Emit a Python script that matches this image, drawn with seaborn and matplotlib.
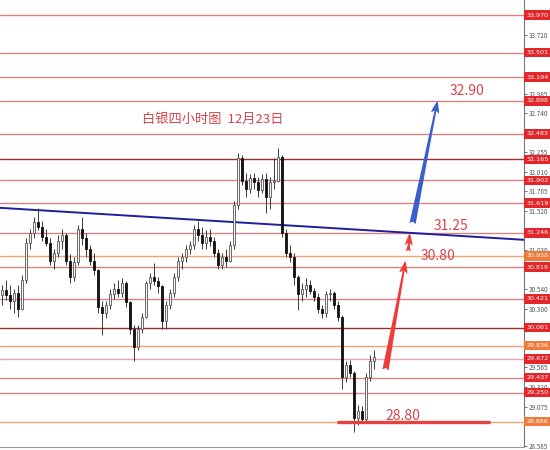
import numpy as np
import pandas as pd
import matplotlib
matplotlib.use("Agg")
import matplotlib.pyplot as plt
import seaborn as sns

sns.set_style("white")
plt.rcParams['font.family'] = ['Noto Sans CJK SC', 'DejaVu Sans']

# candle data (4h silver)
opens = [30.47, 30.53, 30.47, 30.40, 30.50, 30.30, 30.66, 31.12, 31.25, 31.38,
         31.32, 31.20, 31.12, 30.90, 31.00, 31.15, 31.22, 30.90, 30.70, 30.88,
         31.30, 31.18, 31.05, 30.90, 30.78, 30.32, 30.25, 30.35, 30.48, 30.55,
         30.50, 30.62, 30.38, 30.05, 29.82, 30.05, 30.20, 30.62, 30.70, 30.65,
         30.58, 30.15, 30.35, 30.50, 30.70, 30.90, 30.95, 31.05, 31.10, 31.30,
         31.22, 31.12, 31.20, 31.15, 31.00, 30.85, 30.95, 30.90, 31.10, 31.60,
         32.18, 31.90, 31.80, 31.93, 31.88, 31.78, 31.92, 31.70, 31.88, 31.90,
         32.20, 31.25, 31.00, 30.95, 30.70, 30.48, 30.55, 30.60, 30.52, 30.45,
         30.30, 30.24, 30.48, 30.50, 30.35, 30.20, 29.45, 29.60, 29.50, 28.93,
         29.02, 28.92, 29.45, 29.65]
highs = [30.60, 30.66, 30.60, 30.55, 30.60, 30.72, 31.18, 31.30, 31.45, 31.56,
         31.40, 31.30, 31.18, 31.05, 31.22, 31.30, 31.25, 30.98, 30.95, 31.35,
         31.45, 31.25, 31.10, 31.00, 30.80, 30.40, 30.40, 30.55, 30.62, 30.66,
         30.68, 30.65, 30.40, 30.10, 30.10, 30.25, 30.65, 30.75, 30.87, 30.70,
         30.60, 30.40, 30.55, 30.75, 30.95, 31.00, 31.10, 31.15, 31.35, 31.40,
         31.32, 31.28, 31.30, 31.20, 31.05, 31.00, 31.05, 31.15, 31.65, 32.25,
         32.22, 32.00, 31.98, 32.00, 31.95, 31.98, 32.00, 31.95, 32.18, 32.31,
         32.22, 31.30, 31.10, 31.00, 30.72, 30.62, 30.68, 30.66, 30.56, 30.50,
         30.35, 30.52, 30.55, 30.52, 30.40, 30.22, 29.65, 29.66, 29.52, 29.10,
         29.08, 29.50, 29.72, 29.78]
lows = [30.35, 30.41, 30.30, 30.25, 30.20, 30.28, 30.62, 31.05, 31.18, 31.28,
        31.15, 31.08, 30.85, 30.80, 30.95, 31.05, 30.85, 30.62, 30.65, 30.85,
        31.10, 30.95, 30.85, 30.72, 30.25, 29.97, 30.18, 30.30, 30.42, 30.45,
        30.45, 30.32, 29.98, 29.65, 29.78, 30.00, 30.18, 30.55, 30.60, 30.50,
        30.05, 30.05, 30.30, 30.45, 30.65, 30.80, 30.88, 30.98, 31.05, 31.15,
        31.05, 31.05, 31.08, 30.95, 30.80, 30.80, 30.82, 30.88, 31.05, 31.55,
        31.85, 31.70, 31.75, 31.80, 31.70, 31.74, 31.50, 31.55, 31.80, 31.88,
        31.20, 30.95, 30.88, 30.60, 30.28, 30.40, 30.45, 30.48, 30.40, 30.25,
        30.18, 30.20, 30.40, 30.30, 30.15, 29.30, 29.38, 29.45, 28.76, 28.85,
        28.88, 28.88, 29.40, 29.55]
closes = [30.53, 30.47, 30.40, 30.50, 30.30, 30.66, 31.12, 31.25, 31.38, 31.32,
          31.20, 31.12, 30.90, 31.00, 31.15, 31.22, 30.90, 30.70, 30.88, 31.30,
          31.18, 31.05, 30.90, 30.78, 30.32, 30.25, 30.35, 30.48, 30.55, 30.50,
          30.62, 30.38, 30.05, 29.82, 30.05, 30.20, 30.62, 30.70, 30.65, 30.58,
          30.15, 30.35, 30.50, 30.70, 30.90, 30.95, 31.05, 31.10, 31.30, 31.22,
          31.12, 31.20, 31.15, 31.00, 30.85, 30.95, 30.90, 31.10, 31.60, 32.18,
          31.90, 31.80, 31.93, 31.88, 31.78, 31.92, 31.70, 31.88, 31.90, 32.20,
          31.25, 31.00, 30.95, 30.70, 30.48, 30.55, 30.60, 30.52, 30.45, 30.30,
          30.24, 30.48, 30.50, 30.35, 30.20, 29.45, 29.60, 29.50, 28.93, 29.02,
          28.92, 29.45, 29.65, 29.70]

# horizontal levels and their right-axis labels
levels = [33.970, 33.501, 33.194, 32.898, 32.483, 32.165, 31.902, 31.619, 31.246,
          30.958, 30.819, 30.421, 30.061, 29.836, 29.672, 29.437, 29.250, 28.886]
level_kind = ['r', 'r', 'r', 'r', 'r', 'd', 'r', 'r', 'r',
              'o', 'r', 'r', 'd', 'o', 'p', 'r', 'r', 'o']

# plain axis ticks that show between the label boxes
yticks = [28.585, 29.075, 29.320, 29.565, 30.300, 30.540, 31.030, 31.520,
          31.765, 32.010, 32.255, 32.740, 32.985, 33.720]

# trendline end points (x index, price)
trend_x = [-0.5, 130.5]
trend_y = [31.56, 31.16]

title_txt = '白银四小时图  12月23日'
targets = ['32.90', '31.25', '30.80', '28.80']

df = pd.DataFrame({'open': opens, 'high': highs, 'low': lows, 'close': closes})
df['i'] = np.arange(len(df))

fig = plt.figure(figsize=(5.5, 4.5), dpi=100)
ax = fig.add_axes([0, 3 / 450, 524 / 550, 447 / 450])

line_col = {'r': '#d88383', 'd': '#9b2d2d', 'o': '#f0a36e', 'p': '#e9a3b5'}
box_col = {'r': '#e3262b', 'd': '#e3262b', 'o': '#ef7a3c', 'p': '#e3262b'}

for lv, k in zip(levels, level_kind):
    ax.axhline(lv, color=line_col[k], lw=1.0, zorder=1)
    ax.text(1.004, lv, f'{lv:.3f}', transform=ax.get_yaxis_transform(),
            ha='left', va='center', fontsize=4.6, color='white', zorder=10,
            clip_on=False, family='DejaVu Sans',
            bbox=dict(boxstyle='square,pad=0.35', fc=box_col[k], ec='none'))

# trendline
sns.lineplot(x=trend_x, y=trend_y, ax=ax, color='#1f1f9c', lw=1.4, zorder=3)

# candles
up = df['close'] >= df['open']
ax.vlines(df['i'], df['low'], df['high'], color='#3a3a3a', lw=0.7, zorder=4)
body = (df['close'] - df['open']).abs().clip(lower=0.012)
bottom = df[['open', 'close']].min(axis=1)
ax.bar(df['i'][up], body[up], bottom=bottom[up], width=0.72,
       color='#f4f4f4', edgecolor='#555555', lw=0.6, zorder=5)
ax.bar(df['i'][~up], body[~up], bottom=bottom[~up], width=0.72,
       color='#111111', edgecolor='#111111', lw=0.6, zorder=5)

# support bar
ax.hlines(28.886, 83.75, 122, color='#e84141', lw=2.4, zorder=6)

# arrows
ax.annotate('', xy=(101, 30.93), xytext=(95.75, 29.50),
            arrowprops=dict(arrowstyle='fancy,head_length=0.9,head_width=0.6,tail_width=0.45',
                            color='#ee3b3b', lw=0), zorder=7)
ax.annotate('', xy=(102, 31.28), xytext=(101.5, 30.98),
            arrowprops=dict(arrowstyle='fancy,head_length=0.9,head_width=0.55,tail_width=0.35',
                            color='#ee3b3b', lw=0), zorder=7)
ax.annotate('', xy=(109, 32.93), xytext=(102.5, 31.33),
            arrowprops=dict(arrowstyle='fancy,head_length=0.9,head_width=0.6,tail_width=0.45',
                            color='#3a5fcd', lw=0), zorder=7)

txt_col = '#d9434a'
ax.text(52.75, 32.66, title_txt, ha='center', va='center', fontsize=9.5, color=txt_col, zorder=8)
ax.text(116.25, 33.02, targets[0], ha='center', va='center', fontsize=10, color=txt_col, zorder=8)
ax.text(112.25, 31.33, targets[1], ha='center', va='center', fontsize=10, color=txt_col, zorder=8)
ax.text(109, 30.96, targets[2], ha='center', va='center', fontsize=10, color=txt_col, zorder=8)
ax.text(100.25, 28.96, targets[3], ha='center', va='center', fontsize=10, color=txt_col, zorder=8)

ax.set_xlim(-0.5, 130.5)
ax.set_ylim(28.57, 34.158)
ax.yaxis.tick_right()
ax.set_yticks(yticks)
ax.set_yticklabels([f'{t:.3f}' for t in yticks])
ax.tick_params(axis='y', direction='out', length=2, width=0.6, pad=1.5,
               labelsize=4.6, colors='#555555', right=True)
ax.set_xticks([75.25, 85])
ax.set_xticklabels([])
ax.tick_params(axis='x', direction='out', length=2, width=0.6, colors='#888888')
for s in ['top', 'left']:
    ax.spines[s].set_visible(False)
ax.spines['right'].set_color('#777777')
ax.spines['bottom'].set_color('#999999')
ax.spines['right'].set_linewidth(0.8)
ax.spines['bottom'].set_linewidth(0.8)
ax.set_xlabel('')
ax.set_ylabel('')

fig.savefig('out.png', dpi=100)
